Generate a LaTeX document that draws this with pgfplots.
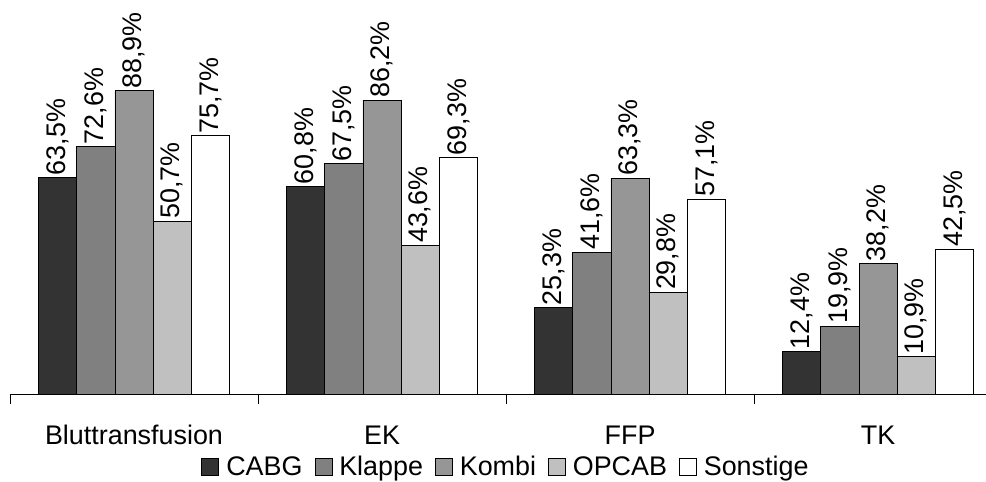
\documentclass[border=0pt]{standalone}
\usepackage{pgfplots}
\pgfplotsset{compat=1.18}
\usepackage{fontspec}
\setmainfont{Liberation Sans}
\newcommand{\fs}{\fontsize{27}{32}\selectfont}
\definecolor{cabg}{HTML}{333333}
\definecolor{klappe}{HTML}{808080}
\definecolor{kombi}{HTML}{969696}
\definecolor{opcab}{HTML}{C0C0C0}
\begin{document}
\begin{tikzpicture}
\begin{axis}[
  /pgf/number format/assume math mode=true,
  scale only axis,
  width=976bp, height=341bp,
  ybar=0pt, bar width=38.2bp,
  xmin=-0.5, xmax=3.435,
  ymin=0, ymax=100,
  clip=false,
  axis x line*=bottom,
  axis y line=none,
  axis line style={line width=0.9bp},
  xtick={0,1,2,3},
  xticklabels={Bluttransfusion,EK,FFP,TK},
  major tick length=0pt,
  extra x ticks={-0.5,0.5,1.5,2.5},
  extra x tick labels={},
  extra x tick style={major tick length=10bp, tick align=outside, tick style={line width=0.9bp, black}},
  xticklabel style={font=\fs, anchor=base, yshift=-51bp},
  nodes near coords={\pgfmathprintnumber[fixed,fixed zerofill,precision=1,use comma]{\pgfplotspointmeta}\%},
  nodes near coords style={font=\fs, rotate=90, anchor=west, inner sep=2bp, black},
  every axis plot/.append style={draw=black, line width=0.8bp},
  legend columns=-1,
  legend style={draw=none, font=\fs, at={(0.5082,-0.214)}, anchor=center,
    /tikz/every even column/.append style={column sep=10bp},
    /tikz/every odd column/.append style={column sep=5bp}},
  legend image code/.code={\draw[#1,line width=0.8bp] (0bp,-8bp) rectangle (17bp,9bp);},
]
\addplot[fill=cabg] coordinates {(0,63.5) (1,60.8) (2,25.3) (3,12.4)};
\addplot[fill=klappe] coordinates {(0,72.6) (1,67.5) (2,41.6) (3,19.9)};
\addplot[fill=kombi] coordinates {(0,88.9) (1,86.2) (2,63.3) (3,38.2)};
\addplot[fill=opcab] coordinates {(0,50.7) (1,43.6) (2,29.8) (3,10.9)};
\addplot[fill=white] coordinates {(0,75.7) (1,69.3) (2,57.1) (3,42.5)};
\legend{CABG,Klappe,Kombi,OPCAB,Sonstige}
\coordinate (bbsw) at (axis cs:-0.5403,-25.8);
\coordinate (bbne) at (axis cs:3.435,115.54);
\end{axis}
\pgfresetboundingbox
\path (bbsw) rectangle (bbne);
\end{tikzpicture}
\end{document}
